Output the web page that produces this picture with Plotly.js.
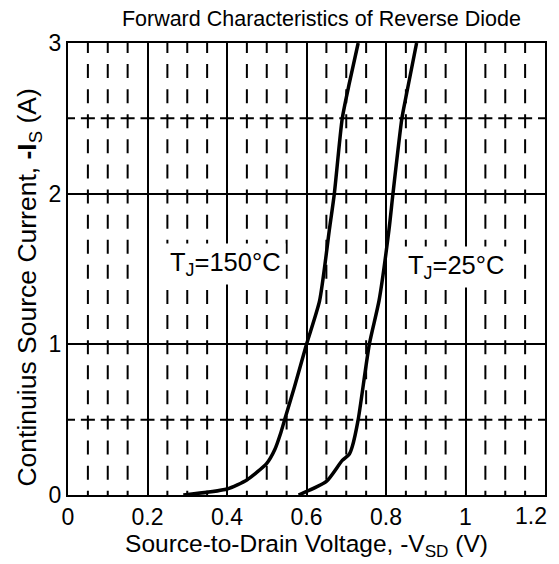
<!DOCTYPE html>
<html>
<head>
<meta charset="utf-8">
<script src="https://cdn.plot.ly/plotly-3.0.1.min.js"></script>
<style>html,body{margin:0;padding:0;background:#fff;}#chart{width:559px;height:564px;}</style>
</head>
<body>
<div id="chart"></div>
<script>
// Data
const vsd150 = [0.29, 0.40, 0.45, 0.50, 0.52, 0.535, 0.545, 0.57, 0.60, 0.633, 0.6575, 0.67, 0.69, 0.7075, 0.73];
const is150  = [0.00, 0.04, 0.10, 0.21, 0.30, 0.41, 0.50, 0.72, 1.00, 1.29, 1.76, 2.00, 2.50, 2.73, 3.00];
const vsd25  = [0.58, 0.65, 0.69, 0.7075, 0.715, 0.73, 0.758, 0.7825, 0.8075, 0.8175, 0.84, 0.85, 0.877];
const is25   = [0.00, 0.09, 0.23, 0.27, 0.32, 0.50, 1.00, 1.29, 1.76, 2.00, 2.50, 2.64, 3.00];

const xMajorTicks = [0, 0.2, 0.4, 0.6, 0.8, 1, 1.2];
const xTickLabels = ['0', '0.2', '0.4', '0.6', '0.8', '1', ''];
const xLastTick = {value: 1.2, label: '1.2'};   // drawn right-aligned at the plot edge
const xMinorGrid = [0.05, 0.10, 0.15, 0.25, 0.30, 0.35, 0.45, 0.50, 0.55, 0.65, 0.70, 0.75, 0.85, 0.90, 0.95, 1.05, 1.10, 1.15];
const yMajorTicks = [0, 1, 2, 3];
const yTickLabels = ['0', '1', '2', '3'];
const yMinorGrid = [0.5, 2.5];

const labels = [
  {text: 'T<sub>J</sub>=150°C', x: 0.395, y: 1.53},
  {text: 'T<sub>J</sub>=25°C', x: 0.975, y: 1.51}
];

const FONT = 'Liberation Sans, Arial, sans-serif';

const shapes = [];
xMinorGrid.forEach(v => shapes.push({
  type: 'line', xref: 'x', yref: 'y', x0: v, x1: v, y0: 3.027, y1: -0.05,
  line: {color: '#000', width: 2, dash: '14px,11.1px'}, layer: 'below'
}));
yMinorGrid.forEach(v => shapes.push({
  type: 'line', xref: 'x', yref: 'y', x0: -0.0176, x1: 1.25, y0: v, y1: v,
  line: {color: '#000', width: 2, dash: '14px,5.875px'}, layer: 'below'
}));

const traces = [
  {x: vsd150, y: is150, mode: 'lines', line: {color: '#000', width: 3.5, shape: 'spline', smoothing: 0.6}, hoverinfo: 'skip'},
  {x: vsd25, y: is25, mode: 'lines', line: {color: '#000', width: 3.5, shape: 'spline', smoothing: 0.6}, hoverinfo: 'skip'}
];

const annotations = labels.map(l => ({
  text: l.text, x: l.x, y: l.y, xref: 'x', yref: 'y', showarrow: false,
  font: {size: 25.5, family: FONT, color: '#000'}, bgcolor: '#fff', borderpad: 4
}));
annotations.push({
  text: xLastTick.label, x: xLastTick.value, y: 0, xref: 'x', yref: 'paper',
  xanchor: 'right', yanchor: 'top', xshift: 4, yshift: -6, showarrow: false,
  font: {size: 23, family: FONT, color: '#000'}
});

const layout = {
  width: 559, height: 564,
  margin: {l: 68, r: 14, t: 43, b: 69},
  paper_bgcolor: '#fff', plot_bgcolor: '#fff',
  showlegend: false,
  font: {family: FONT, color: '#000', size: 22},
  title: {text: 'Forward Characteristics of Reverse Diode', font: {family: FONT, size: 21.5, color: '#000'}, x: 0.575, xanchor: 'center', y: 0.968, yanchor: 'middle'},
  xaxis: {
    range: [0, 1.2], tickvals: xMajorTicks, ticktext: xTickLabels,
    showgrid: true, gridcolor: '#000', gridwidth: 2,
    showline: true, linecolor: '#000', linewidth: 2, mirror: true,
    zeroline: false, ticks: '', tickfont: {size: 23, family: FONT},
    title: {text: 'Source-to-Drain Voltage, -V<sub>SD</sub> (V)', font: {size: 24.5, family: FONT}, standoff: 6}
  },
  yaxis: {
    range: [0, 3], tickvals: yMajorTicks, ticktext: yTickLabels,
    showgrid: true, gridcolor: '#000', gridwidth: 2,
    showline: true, linecolor: '#000', linewidth: 2, mirror: true,
    zeroline: false, ticks: '', tickfont: {size: 23, family: FONT},
    title: {text: 'Continuius Source Current, <b>-I</b><sub>S</sub> (A)&nbsp;&nbsp;&nbsp;&nbsp;&nbsp;', font: {size: 26.5, family: FONT}, standoff: 4}
  },
  shapes: shapes,
  annotations: annotations
};

Plotly.newPlot('chart', traces, layout, {displayModeBar: false, staticPlot: true});
</script>
</body>
</html>
